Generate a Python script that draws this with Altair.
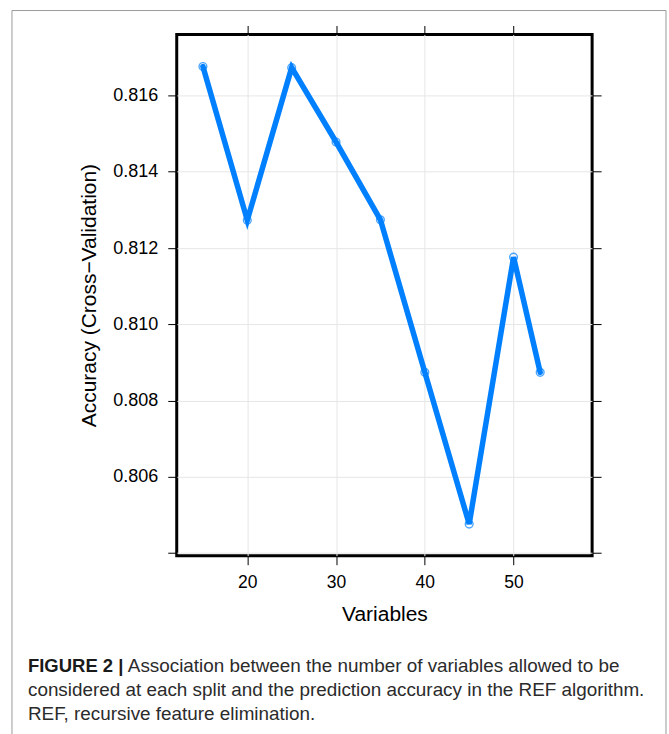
import altair as alt
import pandas as pd

# Data
variables = [15, 20, 25, 30, 35, 40, 45, 50, 53]
accuracy = [0.81676, 0.81273, 0.81673, 0.81478, 0.81274, 0.80874, 0.80476, 0.81176, 0.80874]

x_ticks = [20, 30, 40, 50]
y_ticks = [0.804, 0.806, 0.808, 0.810, 0.812, 0.814, 0.816]

caption_bold = "FIGURE 2 |"
caption_lines = [
    "Association between the number of variables allowed to be",
    "considered at each split and the prediction accuracy in the REF algorithm.",
    "REF, recursive feature elimination.",
]

df = pd.DataFrame({"Variables": variables, "Accuracy": accuracy})

FONT = "Liberation Sans"
BLUE = "#0080ff"

xscale = alt.Scale(domain=[12.05, 58.85], nice=False, zero=False)
yscale = alt.Scale(domain=[0.80393, 0.8176], nice=False, zero=False)

x_bottom = alt.X(
    "Variables:Q",
    scale=xscale,
    axis=alt.Axis(
        orient="bottom", values=x_ticks, title="Variables", grid=True,
        gridColor="#e6e6e6", gridWidth=1, domain=False, tickSize=9,
        tickColor="black", labelFontSize=17.5, labelColor="black",
        labelPadding=9, labelFont=FONT, titleFont=FONT, titleFontSize=21,
        titleFontWeight="normal", titleColor="black", titlePadding=12,
    ),
)
y_left = alt.Y(
    "Accuracy:Q",
    scale=yscale,
    axis=alt.Axis(
        orient="left", values=y_ticks, format=".3f",
        labelExpr="datum.value < 0.805 ? '' : format(datum.value, '.3f')",
        title="Accuracy (Cross\u2212Validation)", grid=True,
        gridColor="#e6e6e6", gridWidth=1, domain=False, tickSize=9,
        tickColor="black", labelFontSize=18, labelColor="black",
        labelPadding=10, labelFont=FONT, titleFont=FONT, titleFontSize=21,
        titleFontWeight="normal", titleColor="black", titlePadding=13,
    ),
)

line = alt.Chart(df).mark_line(color=BLUE, strokeWidth=5.5, strokeCap="round").encode(
    x=x_bottom, y=y_left
)

points = alt.Chart(df).mark_point(
    shape="circle", filled=False, color=BLUE, size=60, strokeWidth=1.4
).encode(
    x=alt.X("Variables:Q", scale=xscale, axis=alt.Axis(
        orient="top", values=x_ticks, labels=False, title=None, grid=False,
        domain=False, tickSize=9, tickColor="black")),
    y=alt.Y("Accuracy:Q", scale=yscale, axis=alt.Axis(
        orient="right", values=y_ticks, labels=False, title=None, grid=False,
        domain=False, tickSize=9, tickColor="black")),
)

one = alt.Data(values=[{}])

frame = alt.Chart(one).mark_rect(fill=None, stroke="#9a9a9a", strokeWidth=1).encode(
    x=alt.value(-165), x2=alt.value(490), y=alt.value(-24), y2=alt.value(720)
)

cap_bold = alt.Chart(one).mark_text(
    text=caption_bold, font=FONT, fontSize=18.5, fontWeight="bold", color="#1a1a1a",
    align="left", baseline="middle"
).encode(x=alt.value(-149), y=alt.value(632))

cap_layers = []
cap_x = [-49, -149, -149]
cap_y = [632, 656, 681]
for txt, cx, cy in zip(caption_lines, cap_x, cap_y):
    cap_layers.append(
        alt.Chart(one).mark_text(
            text=txt, font=FONT, fontSize=18.9, color="#2b2b2b",
            align="left", baseline="middle"
        ).encode(x=alt.value(cx), y=alt.value(cy))
    )

chart = alt.layer(line, points, frame, cap_bold, *cap_layers).properties(
    width=416, height=522,
    padding={"left": 177, "top": 34, "right": 77, "bottom": 178},
    autosize=alt.AutoSizeParams(type="none"),
    background="white",
).configure_view(stroke="black", strokeWidth=3)

chart.save("out.html", embed_options={"renderer": "svg", "actions": False})
